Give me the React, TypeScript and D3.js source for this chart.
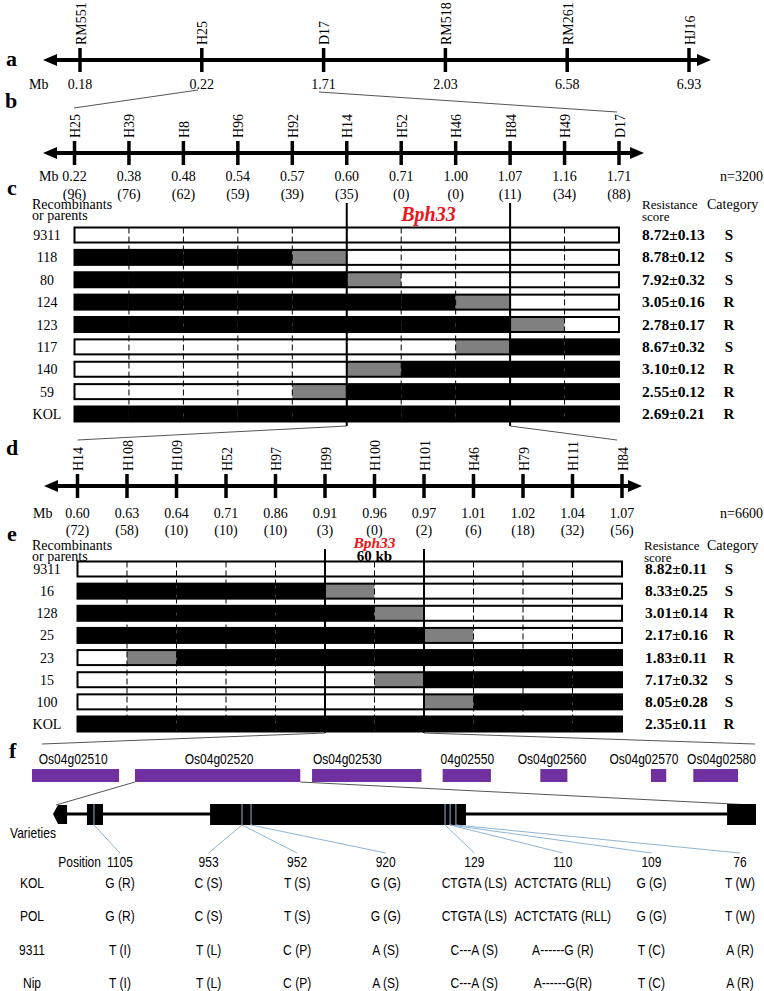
import React from 'react';
import * as d3 from 'd3';

// ---------- data ----------
const markersA = ["RM551", "H25", "D17", "RM518", "RM261", "HJ16"];
const mbA = ["0.18", "0.22", "1.71", "2.03", "6.58", "6.93"];

const markersB = ["H25", "H39", "H8", "H96", "H92", "H14", "H52", "H46", "H84", "H49", "D17"];
const mbB = ["0.22", "0.38", "0.48", "0.54", "0.57", "0.60", "0.71", "1.00", "1.07", "1.16", "1.71"];
const countsB = ["(96)", "(76)", "(62)", "(59)", "(39)", "(35)", "(0)", "(0)", "(11)", "(34)", "(88)"];

const rowsC = ["9311", "118", "80", "124", "123", "117", "140", "59", "KOL"];
const genoC = ["WWWWWWWWWW", "BBBBGWWWWW", "BBBBBGWWWW", "BBBBBBBGWW", "BBBBBBBBGW", "WWWWWWWGBB", "WWWWWGBBBB", "WWWWGBBBBB", "BBBBBBBBBB"];
const scoresC = ["8.72±0.13", "8.78±0.12", "7.92±0.32", "3.05±0.16", "2.78±0.17", "8.67±0.32", "3.10±0.12", "2.55±0.12", "2.69±0.21"];
const catC = ["S", "S", "S", "R", "R", "S", "R", "R", "R"];

const markersD = ["H14", "H108", "H109", "H52", "H97", "H99", "H100", "H101", "H46", "H79", "H111", "H84"];
const mbD = ["0.60", "0.63", "0.64", "0.71", "0.86", "0.91", "0.96", "0.97", "1.01", "1.02", "1.04", "1.07"];
const countsD = ["(72)", "(58)", "(10)", "(10)", "(10)", "(3)", "(0)", "(2)", "(6)", "(18)", "(32)", "(56)"];

const rowsE = ["9311", "16", "128", "25", "23", "15", "100", "KOL"];
const genoE = ["WWWWWWWWWWW", "BBBBBGWWWWW", "BBBBBBGWWWW", "BBBBBBBGWWW", "WGBBBBBBBBB", "WWWWWWGBBBB", "WWWWWWWGBBB", "BBBBBBBBBBB"];
const scoresE = ["8.82±0.11", "8.33±0.25", "3.01±0.14", "2.17±0.16", "1.83±0.11", "7.17±0.32", "8.05±0.28", "2.35±0.11"];
const catE = ["S", "S", "R", "R", "R", "S", "S", "R"];

// panel f genes (kb along 60 kb region)
const geneNames = ["Os04g02510", "Os04g02520", "Os04g02530", "04g02550", "Os04g02560", "Os04g02570", "Os04g02580"];
const geneStartKb = [0, 8.75, 23.8, 34.9, 43.2, 52.6, 56.2];
const geneEndKb = [7.4, 22.8, 33.1, 39.0, 45.5, 53.9, 60.0];
const geneLabelKb = [3.5, 15.9, 26.8, 37.0, 44.2, 52.0, 58.6];

// gene structure of Os04g02520 (bp)
const geneLenBp = 3500;
const arrowEndBp = 70;
const exonStartBp = [169, 782, 3356];
const exonEndBp = [249, 2056, 3500];
const variantBp = [204, 941, 986, 1952, 1977, 2006];
const columnVariant = [0, 1, 1, 2, 3, 4, 4, 5];

const positions = ["1105", "953", "952", "920", "129", "110", "109", "76"];
const varieties = ["KOL", "POL", "9311", "Nip"];
const allelesKOL = ["G (R)", "C (S)", "T (S)", "G (G)", "CTGTA (LS)", "ACTCTATG (RLL)", "G (G)", "T (W)"];
const allelesPOL = ["G (R)", "C (S)", "T (S)", "G (G)", "CTGTA (LS)", "ACTCTATG (RLL)", "G (G)", "T (W)"];
const alleles9311 = ["T (I)", "T (L)", "C (P)", "A (S)", "C---A (S)", "A------G (R)", "T (C)", "A (R)"];
const allelesNip = ["T (I)", "T (L)", "C (P)", "A (S)", "C---A (S)", "A------G(R)", "T (C)", "A (R)"];

// ---------- styles ----------
const SERIF = "'Liberation Serif','Times New Roman',serif";
const SANS = "'Liberation Sans',Arial,sans-serif";
const FILL: Record<string, string> = { B: "#000000", G: "#808080", W: "#ffffff" };
const PURPLE = "#7030a0";
const RED = "#e8161d";
const BLUE = "#8fb3d3";
const ZOOM = "#555555";

function SText({ x, y, children, anchor = "middle", size = 14 }: any) {
  return (
    <text transform={`translate(${x},${y}) scale(0.86,1)`} textAnchor={anchor}
      fontFamily={SANS} fontSize={size} fill="#000">{children}</text>
  );
}

function ArrowAxis({ x1, x2, y }: any) {
  return (
    <g>
      <line x1={x1 + 10} x2={x2 - 10} y1={y} y2={y} stroke="#000" strokeWidth={4} />
      <polygon points={`${x1},${y} ${x1 + 14},${y - 6} ${x1 + 14},${y + 6}`} fill="#000" />
      <polygon points={`${x2},${y} ${x2 - 14},${y - 6} ${x2 - 14},${y + 6}`} fill="#000" />
    </g>
  );
}

function MarkerAxis({ scale, markers, mb, counts, y, x1, x2, mbX, mbY, countY }: any) {
  return (
    <g fontFamily={SERIF} fontSize={14}>
      <ArrowAxis x1={x1} x2={x2} y={y} />
      {markers.map((m: string) => (
        <g key={m}>
          <line x1={scale(m)} x2={scale(m)} y1={y - 12} y2={y + 12} stroke="#000" strokeWidth={3.5} />
          <text transform={`translate(${scale(m) + 1},${y - 15}) rotate(-90)`} dominantBaseline="central">{m}</text>
        </g>
      ))}
      <text x={mbX} y={mbY}>Mb</text>
      {markers.map((m: string, i: number) => (
        <text key={"mb" + m} x={scale(m)} y={mbY} textAnchor="middle">{mb[i]}</text>
      ))}
      {counts && markers.map((m: string, i: number) => (
        <text key={"c" + m} x={scale(m)} y={countY} textAnchor="middle">{counts[i]}</text>
      ))}
    </g>
  );
}

function Genotypes({ scale, markers, rows, geno, scores, cats, y0, y1, scoreX, bh = 15 }: any) {
  const ys = d3.scalePoint().domain(rows).range([y0, y1]);
  const top = y0 - bh / 2, bottom = y1 + bh / 2;
  const xs = markers.map((m: string) => scale(m));
  return (
    <g>
      {rows.map((r: string, i: number) => {
        const yc = ys(r) as number;
        return (
          <g key={r}>
            {geno[i].split("").map((g: string, j: number) => (
              <rect key={j} x={xs[j]} y={yc - bh / 2} width={xs[j + 1] - xs[j]} height={bh} fill={FILL[g]} />
            ))}
            <rect x={xs[0]} y={yc - bh / 2} width={xs[xs.length - 1] - xs[0]} height={bh} fill="none" stroke="#000" strokeWidth={2} />
            <text x={47} y={yc + 5} textAnchor="middle" fontFamily={SERIF} fontSize={14}>{r}</text>
            <text x={scoreX} y={yc + 5} fontFamily={SERIF} fontSize={15.5} fontWeight="bold">{scores[i]}</text>
            <text x={729} y={yc + 5} textAnchor="middle" fontFamily={SERIF} fontSize={15} fontWeight="bold">{cats[i]}</text>
          </g>
        );
      })}
      {xs.slice(1, -1).map((x: number, k: number) => (
        <line key={"d" + k} x1={x} x2={x} y1={top} y2={bottom} stroke="#000" strokeWidth={1} strokeDasharray="6,3" />
      ))}
    </g>
  );
}

export default function App() {
  const W = 764, H = 991;
  const xA = d3.scalePoint().domain(markersA).range([80, 689]);
  const xB = d3.scalePoint().domain(markersB).range([74.5, 619]);
  const xD = d3.scalePoint().domain(markersD).range([77.5, 622]);
  const xG = d3.scaleLinear().domain([0, 60]).range([32, 738]);
  const xS = d3.scaleLinear().domain([0, geneLenBp]).range([53, 756]);
  const xCol = d3.scalePoint().domain(positions).range([120, 740]);
  const yVar = d3.scalePoint().domain(varieties).range([888, 988]);
  const alleleRows = [allelesKOL, allelesPOL, alleles9311, allelesNip];

  const cL = xB(markersB[5]) as number, cR = xB(markersB[8]) as number;
  const eL = xD(markersD[5]) as number, eR = xD(markersD[7]) as number;
  const g2s = xG(geneStartKb[1]), g2e = xG(geneEndKb[1]);

  const letter = (t: string, x: number, y: number) => (
    <text x={x} y={y} fontFamily={SERIF} fontSize={22} fontWeight="bold">{t}</text>
  );

  return (
    <svg width={W} height={H} style={{ position: "absolute", left: 0, top: 0, display: "block", background: "#fff" }}>
      <rect x={0} y={0} width={W} height={H} fill="#fff" />
      {/* panel a */}
      {letter("a", 6, 66)}
      <MarkerAxis scale={xA} markers={markersA} mb={mbA} y={60} x1={43} x2={711} mbX={29} mbY={89} />
      {/* zoom a->b */}
      <line x1={198} y1={90} x2={74} y2={108} stroke={ZOOM} strokeWidth={1} />
      <line x1={319} y1={92} x2={617} y2={112} stroke={ZOOM} strokeWidth={1} />
      {letter("b", 5, 108)}
      {/* panel b */}
      <MarkerAxis scale={xB} markers={markersB} mb={mbB} counts={countsB} y={153} x1={43} x2={644} mbX={39} mbY={181} countY={199} />
      <text x={763} y={181} textAnchor="end" fontFamily={SERIF} fontSize={14}>n=3200</text>
      {/* panel c */}
      {letter("c", 7, 195)}
      <g fontFamily={SERIF} fontSize={14}>
        <text x={32} y={209}>Recombinants</text>
        <text x={32} y={220}>or parents</text>
        <text x={642} y={209} fontSize={13}>Resistance</text>
        <text x={642} y={221} fontSize={13}>score</text>
        <text x={707} y={209}>Category</text>
      </g>
      <text x={(cL + cR) / 2} y={221} textAnchor="middle" fontFamily={SERIF} fontSize={20} fontWeight="bold" fontStyle="italic" fill={RED}>Bph33</text>
      <Genotypes scale={xB} markers={markersB} rows={rowsC} geno={genoC} scores={scoresC} cats={catC} y0={235} y1={414} scoreX={642} />
      <line x1={cL} x2={cL} y1={203} y2={426} stroke="#000" strokeWidth={2} />
      <line x1={cR} x2={cR} y1={203} y2={426} stroke="#000" strokeWidth={2} />
      <line x1={cL} y1={426} x2={xD(markersD[0]) as number} y2={440} stroke={ZOOM} strokeWidth={1} />
      <line x1={cR} y1={426} x2={617} y2={440} stroke={ZOOM} strokeWidth={1} />
      {/* panel d */}
      {letter("d", 6, 455)}
      <MarkerAxis scale={xD} markers={markersD} mb={mbD} counts={countsD} y={486} x1={44} x2={642} mbX={33} mbY={518} countY={535} />
      <text x={763} y={518} textAnchor="end" fontFamily={SERIF} fontSize={14}>n=6600</text>
      {/* panel e */}
      {letter("e", 7, 541)}
      <g fontFamily={SERIF} fontSize={14}>
        <text x={32} y={550}>Recombinants</text>
        <text x={32} y={561}>or parents</text>
        <text x={644} y={550} fontSize={13}>Resistance</text>
        <text x={644} y={562} fontSize={13}>score</text>
        <text x={707} y={550}>Category</text>
      </g>
      <text x={(eL + eR) / 2} y={548} textAnchor="middle" fontFamily={SERIF} fontSize={15.5} fontWeight="bold" fontStyle="italic" fill={RED}>Bph33</text>
      <text x={(eL + eR) / 2} y={561} textAnchor="middle" fontFamily={SERIF} fontSize={15} fontWeight="bold">60 kb</text>
      <Genotypes scale={xD} markers={markersD} rows={rowsE} geno={genoE} scores={scoresE} cats={catE} y0={569} y1={724} scoreX={645} />
      <line x1={eL} x2={eL} y1={549} y2={733} stroke="#000" strokeWidth={2} />
      <line x1={eR} x2={eR} y1={549} y2={733} stroke="#000" strokeWidth={2} />
      <line x1={eL} y1={733} x2={42} y2={744} stroke={ZOOM} strokeWidth={1} />
      <line x1={eR} y1={733} x2={755} y2={744} stroke={ZOOM} strokeWidth={1} />
      {/* panel f */}
      {letter("f", 9, 758)}
      {geneNames.map((g, i) => (
        <g key={g}>
          <SText x={xG(geneLabelKb[i])} y={764}>{g}</SText>
          <rect x={xG(geneStartKb[i])} y={769} width={xG(geneEndKb[i]) - xG(geneStartKb[i])} height={13} fill={PURPLE} />
        </g>
      ))}
      <line x1={g2s} y1={782} x2={56} y2={805} stroke={ZOOM} strokeWidth={1} />
      <line x1={g2e} y1={782} x2={752} y2={805} stroke={ZOOM} strokeWidth={1} />
      {/* gene structure */}
      <line x1={xS(arrowEndBp)} x2={xS(exonStartBp[2])} y1={814} y2={814} stroke="#000" strokeWidth={3} />
      <polygon points={`${xS(0)},814 ${xS(25)},805 ${xS(arrowEndBp)},805 ${xS(arrowEndBp)},824 ${xS(25)},824`} fill="#000" />
      {exonStartBp.map((s, i) => (
        <rect key={i} x={xS(s)} y={804} width={xS(exonEndBp[i]) - xS(s)} height={21} fill="#000" />
      ))}
      {variantBp.map((v, i) => (
        <line key={"v" + i} x1={xS(v)} x2={xS(v)} y1={804} y2={825} stroke={BLUE} strokeWidth={1} />
      ))}
      {positions.map((p, i) => (
        <line key={"vl" + p} x1={xS(variantBp[columnVariant[i]])} y1={825} x2={xCol(p) as number} y2={853} stroke={BLUE} strokeWidth={1} />
      ))}
      <SText x={10} y={838} anchor="start">Varieties</SText>
      <SText x={101} y={867} anchor="end">Position</SText>
      {positions.map((p) => (
        <SText key={"p" + p} x={xCol(p)} y={867}>{p}</SText>
      ))}
      {varieties.map((v, r) => (
        <g key={v}>
          <SText x={32} y={yVar(v)}>{v}</SText>
          {positions.map((p, i) => (
            <SText key={p} x={xCol(p)} y={yVar(v)}>{alleleRows[r][i]}</SText>
          ))}
        </g>
      ))}
    </svg>
  );
}
